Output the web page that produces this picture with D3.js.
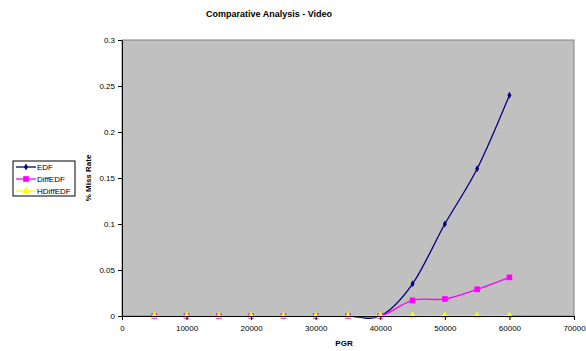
<!DOCTYPE html>
<html lang="en">
<head>
  <meta charset="UTF-8">
  <title>Comparative Analysis - Video</title>
  <script src="https://cdn.jsdelivr.net/npm/d3@7"></script>
  <style>
    body { margin: 0; background: #fff; }
    svg { display: block; font-family: Arial, "Liberation Sans", sans-serif; }
  </style>
</head>
<body>
<svg></svg>
<script>
  const width = 586, height = 351
  const margin = {top: 40, right: 12, bottom: 35, left: 122}

  const pgr = [5000, 10000, 15000, 20000, 25000, 30000, 35000, 40000, 45000, 50000, 55000, 60000]
  const edf = [0, 0, 0, 0, 0, 0, 0, 0, 0.035, 0.1, 0.16, 0.24]
  const diffEdf = [0, 0, 0, 0, 0, 0, 0, 0, 0.017, 0.0185, 0.029, 0.042]
  const hDiffEdf = [0, 0, 0, 0, 0, 0, 0, 0, 0, 0, 0, 0]
  const xTicks = [0, 10000, 20000, 30000, 40000, 50000, 60000, 70000]
  const yTicks = [0, 0.05, 0.1, 0.15, 0.2, 0.25, 0.3]

  const series = [
    {name: 'EDF', values: edf, color: '#000080', marker: 'diamond'},
    {name: 'DiffEDF', values: diffEdf, color: '#ff00ff', marker: 'square'},
    {name: 'HDiffEDF', values: hDiffEdf, color: '#ffff00', marker: 'triangle'}
  ]

  const svg = d3.select('svg')
      .attr('width', width)
      .attr('height', height)

  const x = d3.scaleLinear()
      .domain([0, 70000])
      .range([margin.left, width - margin.right])

  const y = d3.scaleLinear()
      .domain([0, 0.3])
      .range([height - margin.bottom, margin.top])

  // plot area
  svg.append('rect')
      .attr('x', x(0)).attr('y', y(0.3))
      .attr('width', x(70000) - x(0)).attr('height', y(0) - y(0.3))
      .attr('fill', '#c0c0c0')
      .attr('stroke', '#808080')
      .attr('stroke-width', 1)

  svg.append('defs').append('clipPath').attr('id', 'clip')
    .append('rect')
      .attr('x', x(0)).attr('y', y(0.3) - 5)
      .attr('width', x(70000) - x(0)).attr('height', y(0) - y(0.3) + 10)

  const line = d3.line()
      .curve(d3.curveCatmullRom.alpha(0))
      .x((d, i) => x(pgr[i]))
      .y(d => y(d))

  const symbols = {
    diamond: d3.symbol().type(d3.symbolDiamond).size(14),
    square: d3.symbol().type(d3.symbolSquare).size(32),
    triangle: d3.symbol().type(d3.symbolTriangle).size(26)
  }

  series.forEach(s => {
    svg.append('path')
        .attr('clip-path', 'url(#clip)')
        .attr('fill', 'none')
        .attr('stroke', s.color)
        .attr('stroke-width', 1.3)
        .attr('d', line(s.values))
  })
  series.forEach(s => {
    svg.append('g')
      .selectAll('path')
      .data(s.values)
      .join('path')
        .attr('transform', (d, i) => `translate(${x(pgr[i])},${y(d)})`)
        .attr('d', symbols[s.marker]())
        .attr('fill', s.color)
  })

  // X axis
  svg.append('g')
      .attr('transform', `translate(0,${y(0)})`)
      .call(d3.axisBottom(x).tickValues(xTicks).tickFormat(d3.format('d')).tickSize(4).tickSizeOuter(0))
      .call(g => g.select('.domain').attr('stroke', '#000'))
      .call(g => g.selectAll('text').attr('font-size', 8).attr('fill', '#000').attr('dy', '1em'))

  // Y axis
  svg.append('g')
      .attr('transform', `translate(${x(0)},0)`)
      .call(d3.axisLeft(y).tickValues(yTicks).tickFormat(d => d3.format('')(+d.toFixed(2))).tickSize(4).tickSizeOuter(0))
      .call(g => g.select('.domain').attr('stroke', '#000'))
      .call(g => g.selectAll('text').attr('font-size', 8).attr('fill', '#000'))

  // title and axis labels
  svg.append('text')
      .attr('x', 269).attr('y', 17)
      .attr('text-anchor', 'middle')
      .attr('font-size', 9).attr('font-weight', 'bold')
      .text('Comparative Analysis - Video')

  svg.append('text')
      .attr('x', x(35000) - 4).attr('y', 346)
      .attr('text-anchor', 'middle')
      .attr('font-size', 8).attr('font-weight', 'bold')
      .text('PGR')

  svg.append('text')
      .attr('transform', `translate(91,${(y(0) + y(0.3)) / 2}) rotate(-90)`)
      .attr('text-anchor', 'middle')
      .attr('font-size', 8).attr('font-weight', 'bold')
      .text('% Miss Rate')

  // legend
  const legend = svg.append('g').attr('transform', 'translate(13,161)')
  legend.append('rect')
      .attr('width', 62).attr('height', 35)
      .attr('fill', '#fff').attr('stroke', '#000').attr('stroke-width', 1)
  series.forEach((s, i) => {
    const g = legend.append('g').attr('transform', `translate(0,${6 + i * 12})`)
    g.append('line')
        .attr('x1', 3).attr('x2', 23)
        .attr('stroke', s.color).attr('stroke-width', 1.3)
    g.append('path')
        .attr('transform', 'translate(13,0)')
        .attr('d', symbols[s.marker]())
        .attr('fill', s.color)
    g.append('text')
        .attr('x', 24).attr('dy', '0.35em')
        .attr('font-size', 8)
        .text(s.name)
  })
</script>
</body>
</html>
